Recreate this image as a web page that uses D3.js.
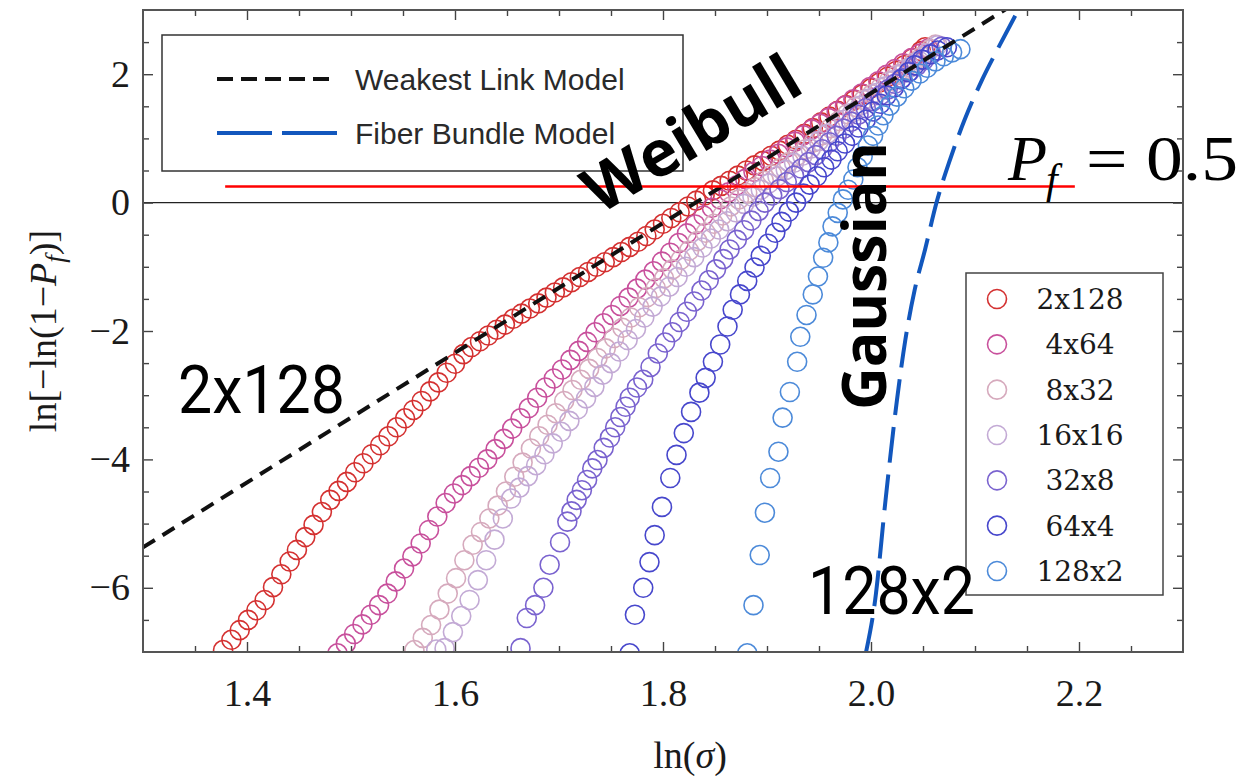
<!DOCTYPE html>
<html>
<head>
<meta charset="utf-8">
<script src="https://cdn.jsdelivr.net/npm/d3@7"></script>
<style>
  body { margin: 0; background: #fff; }
</style>
</head>
<body>
<div id="container"></div>
<script>
/* CONSTANTS AND GLOBALS */
const width = 1241,
  height = 776;

/* DATA */
const sizeLabels = ["2x128", "4x64", "8x32", "16x16", "32x8", "64x4", "128x2"];
const sizeColors = ["#d43131", "#c8509c", "#d6aabd", "#c3aad5", "#7a63cf", "#4747cc", "#4c8ad9"];

const xTicks = [1.4, 1.6, 1.8, 2.0, 2.2];
const xMinorTicks = [1.35, 1.45, 1.5, 1.55, 1.65, 1.7, 1.75, 1.85, 1.9, 1.95, 2.05, 2.1, 2.15, 2.25];
const yTicks = [-6, -4, -2, 0, 2];
const yMinorTicks = [-6.5, -5.5, -5, -4.5, -3.5, -3, -2.5, -1.5, -1, -0.5, 0.5, 1, 1.5, 2.5];

const pts2x128 = [[1.377,-6.97],[1.385,-6.81],[1.393,-6.66],[1.401,-6.50],[1.409,-6.35],[1.417,-6.19],[1.425,-5.99],[1.433,-5.79],[1.441,-5.59],[1.448,-5.41],[1.456,-5.21],[1.464,-5.02],[1.472,-4.82],[1.480,-4.63],[1.488,-4.49],[1.496,-4.35],[1.504,-4.20],[1.512,-4.06],[1.520,-3.92],[1.528,-3.78],[1.536,-3.64],[1.544,-3.50],[1.552,-3.36],[1.560,-3.23],[1.568,-3.09],[1.576,-2.94],[1.584,-2.80],[1.592,-2.65],[1.600,-2.51],[1.608,-2.36],[1.616,-2.25],[1.624,-2.16],[1.632,-2.07],[1.640,-1.98],[1.648,-1.90],[1.656,-1.81],[1.664,-1.73],[1.672,-1.65],[1.680,-1.57],[1.688,-1.48],[1.696,-1.40],[1.704,-1.32],[1.712,-1.24],[1.720,-1.16],[1.728,-1.08],[1.736,-1.00],[1.744,-0.93],[1.752,-0.85],[1.760,-0.77],[1.768,-0.69],[1.776,-0.61],[1.784,-0.52],[1.792,-0.42],[1.800,-0.33],[1.808,-0.24],[1.816,-0.15],[1.824,-0.06],[1.832,0.03],[1.840,0.11],[1.848,0.19],[1.856,0.26],[1.864,0.34],[1.872,0.42],[1.880,0.50],[1.888,0.58],[1.896,0.65],[1.904,0.73],[1.912,0.81],[1.920,0.90],[1.928,0.98],[1.936,1.07],[1.944,1.16],[1.952,1.25],[1.960,1.34],[1.968,1.43],[1.976,1.52],[1.984,1.60],[1.992,1.69],[2.000,1.78],[2.008,1.87],[2.016,1.96],[2.024,2.05],[2.032,2.14],[2.040,2.25],[2.048,2.36],[2.052,2.42]];

const pts4x64 = [[1.487,-7.02],[1.495,-6.87],[1.503,-6.72],[1.511,-6.57],[1.519,-6.42],[1.527,-6.27],[1.535,-6.09],[1.543,-5.90],[1.551,-5.70],[1.559,-5.51],[1.567,-5.31],[1.575,-5.10],[1.583,-4.89],[1.591,-4.68],[1.599,-4.53],[1.607,-4.40],[1.615,-4.26],[1.623,-4.13],[1.631,-4.00],[1.639,-3.84],[1.647,-3.68],[1.655,-3.52],[1.663,-3.36],[1.671,-3.20],[1.679,-3.04],[1.687,-2.88],[1.695,-2.74],[1.703,-2.60],[1.711,-2.45],[1.719,-2.31],[1.727,-2.17],[1.735,-2.02],[1.743,-1.88],[1.751,-1.75],[1.759,-1.61],[1.767,-1.48],[1.775,-1.34],[1.783,-1.20],[1.791,-1.07],[1.799,-0.92],[1.807,-0.78],[1.815,-0.63],[1.823,-0.48],[1.831,-0.34],[1.839,-0.20],[1.847,-0.08],[1.855,0.05],[1.863,0.16],[1.871,0.27],[1.879,0.37],[1.887,0.48],[1.895,0.57],[1.903,0.67],[1.911,0.76],[1.919,0.86],[1.927,0.95],[1.935,1.05],[1.943,1.14],[1.951,1.23],[1.959,1.32],[1.967,1.42],[1.975,1.51],[1.983,1.61],[1.991,1.70],[1.999,1.80],[2.007,1.89],[2.015,1.99],[2.023,2.08],[2.031,2.17],[2.039,2.25],[2.047,2.32],[2.055,2.40]];

const pts8x32 = [[1.561,-6.97],[1.569,-6.78],[1.577,-6.58],[1.585,-6.34],[1.593,-6.09],[1.601,-5.85],[1.609,-5.57],[1.617,-5.33],[1.625,-5.13],[1.633,-4.92],[1.641,-4.72],[1.649,-4.50],[1.657,-4.27],[1.665,-4.05],[1.673,-3.83],[1.681,-3.64],[1.689,-3.46],[1.697,-3.28],[1.705,-3.09],[1.713,-2.92],[1.721,-2.76],[1.729,-2.59],[1.737,-2.42],[1.745,-2.27],[1.753,-2.11],[1.761,-1.95],[1.769,-1.79],[1.777,-1.63],[1.785,-1.47],[1.793,-1.33],[1.801,-1.18],[1.809,-1.04],[1.817,-0.89],[1.825,-0.75],[1.833,-0.60],[1.841,-0.47],[1.849,-0.33],[1.857,-0.20],[1.865,-0.06],[1.873,0.05],[1.881,0.15],[1.889,0.24],[1.897,0.34],[1.905,0.44],[1.913,0.54],[1.921,0.63],[1.929,0.73],[1.937,0.83],[1.945,0.94],[1.953,1.05],[1.961,1.16],[1.969,1.27],[1.977,1.38],[1.985,1.49],[1.993,1.60],[2.001,1.69],[2.009,1.79],[2.017,1.89],[2.025,1.99],[2.033,2.08],[2.041,2.18],[2.049,2.28],[2.057,2.39],[2.062,2.46]];

const pts16x16 = [[1.582,-6.96],[1.590,-6.94],[1.598,-6.69],[1.606,-6.44],[1.614,-6.19],[1.622,-5.88],[1.630,-5.57],[1.638,-5.25],[1.646,-4.92],[1.654,-4.61],[1.662,-4.44],[1.670,-4.26],[1.678,-4.09],[1.686,-3.92],[1.694,-3.75],[1.702,-3.57],[1.710,-3.40],[1.718,-3.22],[1.726,-3.05],[1.734,-2.87],[1.742,-2.68],[1.750,-2.50],[1.758,-2.32],[1.766,-2.14],[1.774,-1.97],[1.782,-1.79],[1.790,-1.62],[1.798,-1.46],[1.806,-1.31],[1.814,-1.16],[1.822,-1.00],[1.830,-0.85],[1.838,-0.70],[1.846,-0.56],[1.854,-0.42],[1.862,-0.29],[1.870,-0.15],[1.878,-0.02],[1.886,0.09],[1.894,0.20],[1.902,0.30],[1.910,0.41],[1.918,0.51],[1.926,0.62],[1.934,0.73],[1.942,0.84],[1.950,0.96],[1.958,1.07],[1.966,1.18],[1.974,1.29],[1.982,1.40],[1.990,1.51],[1.998,1.62],[2.006,1.71],[2.014,1.81],[2.022,1.91],[2.030,2.01],[2.038,2.11],[2.046,2.21],[2.054,2.33],[2.064,2.45]];

const pts32x8 = [[1.663,-6.94],[1.669,-6.47],[1.677,-6.27],[1.685,-6.00],[1.691,-5.64],[1.701,-5.29],[1.708,-4.97],[1.712,-4.81],[1.717,-4.63],[1.722,-4.48],[1.727,-4.32],[1.732,-4.14],[1.737,-4.01],[1.743,-3.82],[1.749,-3.66],[1.754,-3.50],[1.759,-3.34],[1.764,-3.18],[1.768,-3.04],[1.775,-2.88],[1.781,-2.76],[1.788,-2.56],[1.795,-2.35],[1.802,-2.18],[1.809,-2.02],[1.816,-1.86],[1.823,-1.70],[1.830,-1.54],[1.837,-1.37],[1.844,-1.21],[1.851,-1.04],[1.858,-0.88],[1.864,-0.73],[1.871,-0.58],[1.878,-0.43],[1.885,-0.28],[1.892,-0.13],[1.898,0.00],[1.905,0.11],[1.912,0.21],[1.919,0.32],[1.926,0.42],[1.933,0.53],[1.940,0.63],[1.947,0.74],[1.953,0.83],[1.960,0.94],[1.967,1.04],[1.974,1.15],[1.981,1.26],[1.988,1.37],[1.995,1.47],[2.002,1.58],[2.009,1.67],[2.016,1.76],[2.023,1.85],[2.030,1.94],[2.037,2.04],[2.044,2.13],[2.051,2.22],[2.058,2.31],[2.068,2.43]];

const pts64x4 = [[1.768,-7.02],[1.773,-6.42],[1.781,-6.00],[1.787,-5.60],[1.792,-5.18],[1.799,-4.74],[1.807,-4.29],[1.813,-3.93],[1.820,-3.59],[1.827,-3.26],[1.835,-2.96],[1.841,-2.73],[1.848,-2.48],[1.855,-2.21],[1.862,-1.93],[1.867,-1.67],[1.874,-1.43],[1.881,-1.22],[1.888,-1.01],[1.894,-0.83],[1.901,-0.64],[1.908,-0.47],[1.914,-0.30],[1.921,-0.14],[1.928,0.00],[1.935,0.14],[1.941,0.28],[1.948,0.41],[1.955,0.55],[1.962,0.67],[1.968,0.80],[1.975,0.92],[1.982,1.04],[1.988,1.17],[1.995,1.29],[2.002,1.42],[2.009,1.54],[2.015,1.67],[2.022,1.79],[2.029,1.92],[2.036,2.03],[2.042,2.14],[2.049,2.23],[2.057,2.31],[2.064,2.37],[2.073,2.42]];

const pts128x2 = [[1.881,-7.02],[1.887,-6.27],[1.893,-5.49],[1.898,-4.83],[1.903,-4.29],[1.911,-3.88],[1.915,-3.35],[1.922,-2.95],[1.929,-2.48],[1.932,-2.09],[1.938,-1.75],[1.944,-1.43],[1.949,-1.15],[1.954,-0.86],[1.959,-0.62],[1.963,-0.37],[1.968,-0.16],[1.973,0.05],[1.978,0.20],[1.983,0.36],[1.987,0.55],[1.992,0.72],[1.997,0.89],[2.002,1.04],[2.007,1.20],[2.012,1.36],[2.018,1.51],[2.025,1.65],[2.032,1.78],[2.039,1.90],[2.047,2.01],[2.054,2.10],[2.062,2.20],[2.070,2.28],[2.078,2.34],[2.086,2.39]];

const allSeries = [pts2x128, pts4x64, pts8x32, pts16x16, pts32x8, pts64x4, pts128x2];

// model curves
const weakestLink = [[1.30, -5.37], [2.16, 3.32]];
const fiberBundle = [[1.995,-7.02],[2.004,-6.19],[2.014,-4.63],[2.025,-3.07],[2.033,-2.14],[2.042,-1.36],[2.052,-0.73],[2.063,0.00],[2.076,0.67],[2.090,1.29],[2.107,1.92],[2.124,2.46],[2.143,3.04]];

// P_f = 0.5 marker line
const pfLineX = [1.379, 2.196];
const pfLineY = 0.25;

/* SCALES */
const xScale = d3.scaleLinear().domain([1.3, 2.3]).range([143, 1183]);
const yScale = d3.scaleLinear().domain([-7, 3]).range([652, 10]);

const svg = d3.select("#container").append("svg")
  .attr("width", width)
  .attr("height", height)
  .style("background", "#fff");

const [x0, x1] = xScale.range();
const [y0, y1] = yScale.range();

svg.append("clipPath").attr("id", "plotClip")
  .append("rect")
  .attr("x", x0).attr("y", y1)
  .attr("width", x1 - x0).attr("height", y0 - y1);

const plot = svg.append("g").attr("clip-path", "url(#plotClip)");

// zero line
plot.append("line")
  .attr("x1", x0).attr("x2", x1)
  .attr("y1", yScale(0)).attr("y2", yScale(0))
  .attr("stroke", "#222").attr("stroke-width", 1.3);

// circles
allSeries.forEach((pts, i) => {
  plot.append("g").selectAll("circle")
    .data(pts)
    .join("circle")
    .attr("cx", d => xScale(d[0]))
    .attr("cy", d => yScale(d[1]))
    .attr("r", 9.5)
    .attr("fill", "none")
    .attr("stroke", sizeColors[i])
    .attr("stroke-width", 1.6);
});

const line = d3.line().x(d => xScale(d[0])).y(d => yScale(d[1]));

plot.append("path")
  .attr("d", line(weakestLink))
  .attr("fill", "none")
  .attr("stroke", "#111")
  .attr("stroke-width", 4)
  .attr("stroke-dasharray", "14,9");

plot.append("path")
  .attr("d", line.curve(d3.curveMonotoneX)(fiberBundle))
  .attr("fill", "none")
  .attr("stroke", "#1257bd")
  .attr("stroke-width", 4)
  .attr("stroke-dasharray", "36,12");

// red Pf line
svg.append("line")
  .attr("x1", xScale(pfLineX[0])).attr("x2", xScale(pfLineX[1]))
  .attr("y1", yScale(pfLineY)).attr("y2", yScale(pfLineY))
  .attr("stroke", "#ff0000").attr("stroke-width", 2.5);

/* AXES */
function styleAxis(g) {
  g.select(".domain").remove();
  g.selectAll(".tick line").attr("stroke", "#444").attr("stroke-width", 1.4);
  g.selectAll("text")
    .attr("font-family", "Liberation Serif, serif")
    .attr("font-size", 38)
    .attr("fill", "#1a1a1a");
}

svg.append("g")
  .attr("transform", `translate(0,${y0})`)
  .call(d3.axisBottom(xScale).tickValues(xTicks).tickSize(-10).tickPadding(27).tickFormat(d3.format(".1f")))
  .call(styleAxis);
svg.append("g")
  .attr("transform", `translate(0,${y0})`)
  .call(d3.axisBottom(xScale).tickValues(xMinorTicks).tickSize(-6).tickFormat(""))
  .call(styleAxis);
svg.append("g")
  .attr("transform", `translate(0,${y1})`)
  .call(d3.axisTop(xScale).tickValues(xTicks).tickSize(-10).tickFormat(""))
  .call(styleAxis);
svg.append("g")
  .attr("transform", `translate(0,${y1})`)
  .call(d3.axisTop(xScale).tickValues(xMinorTicks).tickSize(-6).tickFormat(""))
  .call(styleAxis);

svg.append("g")
  .attr("transform", `translate(${x0},0)`)
  .call(d3.axisLeft(yScale).tickValues(yTicks).tickSize(-10).tickPadding(13))
  .call(styleAxis);
svg.append("g")
  .attr("transform", `translate(${x0},0)`)
  .call(d3.axisLeft(yScale).tickValues(yMinorTicks).tickSize(-6).tickFormat(""))
  .call(styleAxis);
svg.append("g")
  .attr("transform", `translate(${x1},0)`)
  .call(d3.axisRight(yScale).tickValues(yTicks).tickSize(-10).tickFormat(""))
  .call(styleAxis);
svg.append("g")
  .attr("transform", `translate(${x1},0)`)
  .call(d3.axisRight(yScale).tickValues(yMinorTicks).tickSize(-6).tickFormat(""))
  .call(styleAxis);

// frame
svg.append("rect")
  .attr("x", x0).attr("y", y1)
  .attr("width", x1 - x0).attr("height", y0 - y1)
  .attr("fill", "none").attr("stroke", "#555").attr("stroke-width", 2);

// axis titles
const xTitle = svg.append("text")
  .attr("x", (x0 + x1) / 2 + 27).attr("y", 768)
  .attr("text-anchor", "middle")
  .attr("font-family", "Liberation Serif, serif")
  .attr("font-size", 38)
  .attr("fill", "#1a1a1a");
xTitle.append("tspan").text("ln(");
xTitle.append("tspan").attr("font-style", "italic").text("σ");
xTitle.append("tspan").text(")");

const yTitle = svg.append("text")
  .attr("transform", `translate(56,${yScale(-2)}) rotate(-90)`)
  .attr("text-anchor", "middle")
  .attr("font-family", "Liberation Serif, serif")
  .attr("font-size", 38)
  .attr("fill", "#1a1a1a");
yTitle.append("tspan").text("ln[−ln(1−");
yTitle.append("tspan").attr("font-style", "italic").text("P");
yTitle.append("tspan").attr("font-style", "italic").attr("font-size", 27).attr("dy", 8).text("f");
yTitle.append("tspan").attr("dy", -8).text(")]");

/* LEGEND: models */
const legModels = svg.append("g");
legModels.append("rect")
  .attr("x", 162).attr("y", 35).attr("width", 521).attr("height", 136)
  .attr("fill", "#fff").attr("stroke", "#333").attr("stroke-width", 1.5);
legModels.append("line")
  .attr("x1", 217).attr("x2", 332).attr("y1", 79).attr("y2", 79)
  .attr("stroke", "#111").attr("stroke-width", 4).attr("stroke-dasharray", "16,8");
legModels.append("line")
  .attr("x1", 217).attr("x2", 337).attr("y1", 133).attr("y2", 133)
  .attr("stroke", "#1257bd").attr("stroke-width", 4).attr("stroke-dasharray", "55,10");
legModels.selectAll("text.model")
  .data(["Weakest Link Model", "Fiber Bundle Model"])
  .join("text")
  .attr("class", "model")
  .attr("x", 355)
  .attr("y", (d, i) => 79 + i * 54)
  .attr("dy", "0.36em")
  .attr("font-family", "Liberation Sans, Arial, sans-serif")
  .attr("font-size", 30)
  .attr("fill", "#2a2a2a")
  .text(d => d);

/* LEGEND: sizes */
const rowY = d3.scalePoint().domain(sizeLabels).range([299, 571]);
const legSizes = svg.append("g");
legSizes.append("rect")
  .attr("x", 966).attr("y", 273).attr("width", 197).attr("height", 322)
  .attr("fill", "#fff").attr("stroke", "#444").attr("stroke-width", 1.5);
legSizes.selectAll("circle")
  .data(sizeLabels)
  .join("circle")
  .attr("cx", 997)
  .attr("cy", d => rowY(d))
  .attr("r", 9.5)
  .attr("fill", "none")
  .attr("stroke", (d, i) => sizeColors[i])
  .attr("stroke-width", 1.6);
legSizes.selectAll("text")
  .data(sizeLabels)
  .join("text")
  .attr("x", 1080)
  .attr("y", d => rowY(d))
  .attr("dy", "0.36em")
  .attr("text-anchor", "middle")
  .attr("font-family", "DejaVu Serif, serif")
  .attr("font-size", 28)
  .attr("fill", "#1a1a1a")
  .text(d => d);

/* ANNOTATIONS */
svg.append("text")
  .attr("transform", "translate(703,153) rotate(-31)")
  .attr("text-anchor", "middle")
  .attr("font-family", "Open Sans, sans-serif")
  .attr("font-weight", 700)
  .attr("font-size", 64)
  .attr("fill", "#000")
  .text("Weibull");

svg.append("text")
  .attr("transform", "translate(886,276) rotate(-90)")
  .attr("text-anchor", "middle")
  .attr("font-family", "Open Sans, sans-serif")
  .attr("font-weight", 700)
  .attr("font-size", 60)
  .attr("textLength", 268)
  .attr("lengthAdjust", "spacingAndGlyphs")
  .attr("fill", "#000")
  .text("Gaussian");

svg.append("text")
  .attr("x", 178).attr("y", 413)
  .attr("font-family", "Roboto, sans-serif")
  .attr("font-size", 66)
  .attr("textLength", 167)
  .attr("lengthAdjust", "spacingAndGlyphs")
  .attr("fill", "#000")
  .text("2x128");

svg.append("text")
  .attr("x", 808).attr("y", 614)
  .attr("font-family", "Roboto, sans-serif")
  .attr("font-size", 66)
  .attr("textLength", 167)
  .attr("lengthAdjust", "spacingAndGlyphs")
  .attr("fill", "#000")
  .text("128x2");

const pf = svg.append("g")
  .attr("font-family", "Liberation Serif, serif")
  .attr("fill", "#000");
pf.append("text")
  .attr("x", 1008).attr("y", 180)
  .attr("font-size", 64).attr("font-style", "italic")
  .text("P");
pf.append("text")
  .attr("x", 1046).attr("y", 193)
  .attr("font-size", 42).attr("font-style", "italic")
  .text("f");
pf.append("text")
  .attr("x", 1086).attr("y", 180)
  .attr("font-size", 64)
  .attr("textLength", 152)
  .attr("lengthAdjust", "spacingAndGlyphs")
  .text("= 0.5");
</script>
</body>
</html>
